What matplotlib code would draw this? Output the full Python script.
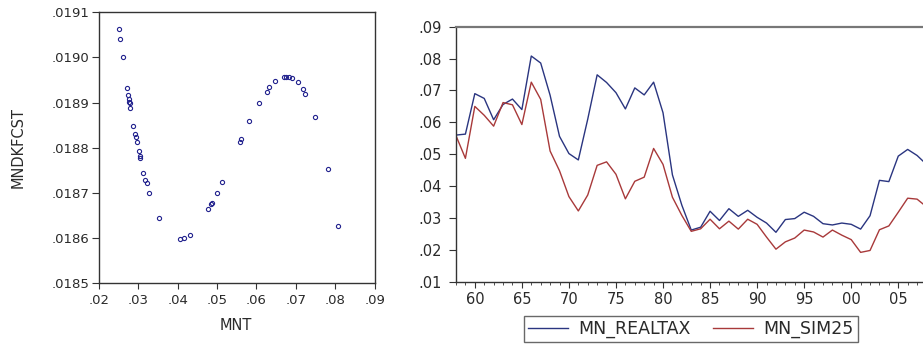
import matplotlib
matplotlib.use("Agg")
import matplotlib.pyplot as plt
from matplotlib.ticker import FuncFormatter, MultipleLocator

# scatter: MNT vs MNDKFCST
mnt = [.0250, .02545, .0260, .02705, .0274, .02756, .02773, .0279, .0280, .02876,
       .02917, .02934, .0296, .0301, .03036, .03036, .0313, .03181, .03207, .03265,
       .03512, .04062, .04148, .04301, .04775, .04836, .04861, .04996, .05124, .05574,
       .05607, .05819, .06066, .06261, .06328, .06481, .06702, .06753, .06829, .06898,
       .0705, .07178, .07236, .07474, .0781, .08066]
mndkfcst = [.019063, .019040, .019001, .018933, .018918, .018909, .018902, .018900, .018888, .018848,
            .018831, .018823, .018812, .018793, .018781, .018777, .018744, .018729, .018721, .018701,
            .018645, .018599, .018601, .018608, .018664, .018675, .018678, .018701, .018724, .018812,
            .018819, .018859, .018900, .018924, .018935, .018947, .018957, .018957, .018956, .018955,
            .018946, .018930, .018919, .018869, .018752, .018627]

# time series
years = list(range(1958, 2009))
mn_realtax = [.0560, .0563, .0690, .0675, .0608, .0656, .0673, .0640, .0808, .0786,
              .0685, .0556, .0502, .0482, .0610, .0749, .0725, .0693, .0642, .0708,
              .0686, .0726, .0630, .0435, .0340, .0262, .0271, .0321, .0292, .0329,
              .0305, .0324, .0302, .0284, .0255, .0295, .0298, .0318, .0305, .0282,
              .0278, .0284, .0280, .0265, .0307, .0418, .0414, .0494, .0515, .0496,
              .0468]
mn_sim25 = [.0558, .0487, .0650, .0622, .0588, .0662, .0655, .0593, .0726, .0672,
            .0510, .0448, .0367, .0322, .0372, .0465, .0476, .0437, .0360, .0415,
            .0428, .0518, .0468, .0365, .0308, .0258, .0266, .0296, .0266, .0290,
            .0265, .0296, .0280, .0240, .0202, .0225, .0237, .0262, .0256, .0240,
            .0262, .0246, .0232, .0192, .0198, .0263, .0275, .0318, .0362, .0359,
            .0335]

W, H = 923, 345
fig = plt.figure(figsize=(W / 100, H / 100), dpi=100)
plt.rcParams['font.family'] = ['DejaVu Sans']

def nolead(v, pos, nd):
    s = f"{v:.{nd}f}"
    return s[1:] if s.startswith("0") else s

axcol = "#333333"
txtcol = "#2a2a2a"

# left: scatter
ax1 = fig.add_axes([99 / W, 1 - 283.3 / H, 275.6 / W, 271 / H])
ax1.plot(mnt, mndkfcst, 'o', mfc='none', mec='#23238e', ms=3.0, mew=0.8)
ax1.set_xlim(.02, .09)
ax1.set_ylim(.0185, .0191)
ax1.xaxis.set_major_locator(MultipleLocator(.01))
ax1.yaxis.set_major_locator(MultipleLocator(.0001))
ax1.xaxis.set_major_formatter(FuncFormatter(lambda v, p: nolead(v, p, 2)))
ax1.yaxis.set_major_formatter(FuncFormatter(lambda v, p: nolead(v, p, 4)))
ax1.tick_params(axis='y', direction='out', length=5, pad=2, labelsize=9.5,
                color=axcol, labelcolor=txtcol)
ax1.tick_params(axis='x', direction='out', length=4, pad=4, labelsize=9.5,
                color=axcol, labelcolor=txtcol)
for sp in ax1.spines.values():
    sp.set_color(axcol)
    sp.set_linewidth(1.0)
fig.text(18.3 / W, 1 - 148 / H, "MNDKFCST", rotation=90, ha='center', va='center',
         fontsize=10.5, color=txtcol)
fig.text(236 / W, 1 - 326 / H, "MNT", ha='center', va='center', fontsize=10.5, color=txtcol)

# right: time series (axis runs past the right edge of the image)
x_left = 456
px_per_year = 9.41
x0, x1 = 1958, 2008.5
ax2 = fig.add_axes([x_left / W, 1 - 281.7 / H, (x1 - x0) * px_per_year / W, 255 / H])
l1, = ax2.plot(years, mn_realtax, color='#2a3580', lw=1.0)
l2, = ax2.plot(years, mn_sim25, color='#a8393a', lw=1.0)
ax2.set_xlim(x0, x1)
ax2.set_ylim(.01, .09)
ax2.xaxis.set_major_locator(MultipleLocator(5))
ax2.xaxis.set_minor_locator(MultipleLocator(1))
ax2.yaxis.set_major_locator(MultipleLocator(.01))
ax2.xaxis.set_major_formatter(FuncFormatter(lambda v, p: f"{int(round(v)) % 100:02d}"))
ax2.yaxis.set_major_formatter(FuncFormatter(lambda v, p: nolead(v, p, 2)))
ax2.tick_params(axis='y', direction='out', length=5, pad=5, labelsize=10.5,
                color=axcol, labelcolor=txtcol)
ax2.tick_params(axis='x', which='major', direction='out', length=4.5, pad=3, labelsize=10.5,
                color=axcol, labelcolor=txtcol)
ax2.tick_params(axis='x', which='minor', direction='out', length=2.5, color=axcol)
for name, sp in ax2.spines.items():
    sp.set_color(axcol)
    sp.set_linewidth(1.0)
ax2.spines['top'].set_color('#777777')
ax2.spines['top'].set_linewidth(1.6)

leg = fig.legend([l1, l2], ["MN_REALTAX", "MN_SIM25"], loc='center',
                 bbox_to_anchor=(691 / W, 1 - 329 / H), ncol=2, fontsize=12.5,
                 frameon=True, fancybox=False, handlelength=2.3, handletextpad=0.6,
                 columnspacing=1.3, borderpad=0.25)
leg.get_frame().set_edgecolor('#444444')
leg.get_frame().set_linewidth(1.0)
for t in leg.get_texts():
    t.set_color(txtcol)

fig.savefig("out.png", dpi=100)
